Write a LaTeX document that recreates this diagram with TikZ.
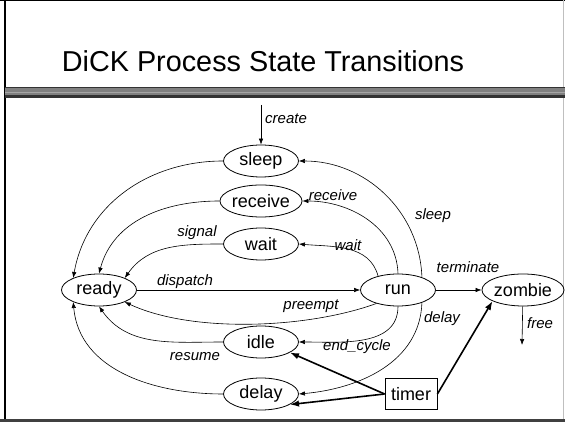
\documentclass[tikz,border=0pt]{standalone}
\usepackage{fontspec}
\setmainfont{Liberation Sans}
\usetikzlibrary{arrows.meta}
\usetikzlibrary{positioning}
\usetikzlibrary{shapes.geometric}
\tikzset{state/.style = {draw, ellipse, line width = 0.8, minimum width = 75, minimum height = 32, inner sep = 0, font = \fontsize{18}{18}\selectfont}}
\tikzset{clock/.style = {draw, line width = 0.8, minimum width = 52, minimum height = 31, inner sep = 0, font = \fontsize{18}{18}\selectfont}}
\tikzset{lbl/.style = {inner sep = 0, font = \itshape\fontsize{15}{15}\selectfont}}
\tikzset{trans/.style = {line width = 0.6, -{Latex[length = 6, width = 4.5]}}}
\tikzset{kick/.style = {line width = 1.6, -{Latex[length = 9, width = 6.5]}}}

\begin{document}
\begin{tikzpicture}[x = 1pt, y = 1pt]
    \useasboundingbox (0, 0) rectangle (565, 422);

    % frame and header rule
    \draw[line width = 1] (0, 421.5) -- (565, 421.5);
    \draw[line width = 2.5] (5, 0) -- (5, 422);
    \draw[black!25, line width = 1] (563.5, 0) -- (563.5, 422);
    \draw[black!75, line width = 2.5] (0, 1.5) -- (565, 1.5);
    \fill[black!80] (5, 324) rectangle (565, 335);
    \fill[black!50] (5, 327) rectangle (565, 333.5);
    \draw[black!35, line width = 0.8] (5, 330) -- (565, 330);

    \node[anchor = base, inner sep = 0, font = \fontsize{28.8}{30}\selectfont] (title) at (263, 350) {DiCK Process State Transitions};

    \node[state] (sleep) at (261, 261) {sleep};
    \node[state] (receive) at (261, 221) {receive};
    \node[state] (wait) at (261, 178) {wait};
    \node[state] (ready) at (99, 132) {ready};
    \node[state] (run) at (398, 132) {run};
    \node[state] (zombie) at (523, 132) {zombie};
    \node[state] (idle) at (261, 80) {idle};
    \node[state] (delay) at (261, 28) {delay};
    \node[clock] (timer) at (411, 28) {timer};

    \coordinate (create) at (261, 317);
    \coordinate (free) at (522, 77);

    \draw[trans] (create) -- (sleep);
    \draw[trans] (sleep.west) to[out = 180, in = 80] (ready.155);
    \draw[trans] (receive.west) to[out = 180, in = 75] (ready.north);
    \draw[trans] (wait.west) to[out = 180, in = 55] (ready.25);
    \draw[trans] (run.28) to[out = 92, in = 0] (sleep.east);
    \draw[trans] (run.north) to[out = 92, in = 0] (receive.east);
    \draw[trans] (run.145) to[out = 105, in = -5] (wait.east);
    \draw[trans] (ready) -- (run);
    \draw[trans] (run.212) to[out = 200, in = -25, looseness = 0.75] (ready.335);
    \draw[trans] (run.south) to[out = -90, in = 0] (idle.east);
    \draw[trans] (run.-28) to[out = -92, in = 5] (delay.east);
    \draw[trans] (idle.west) to[out = 180, in = -55] (ready.south);
    \draw[trans] (delay.west) to[out = 180, in = -85] (ready.205);
    \draw[trans] (run) -- (zombie);
    \draw[trans] (zombie) -- (free);

    \draw[kick] (timer.west) -- (idle.340);
    \draw[kick] (timer.west) -- (delay.340);
    \draw[kick] (timer.east) -- (zombie.200);

    \node[lbl, anchor = west] (lcreate) at (265, 303) {create};
    \node[lbl] (lsleep) at (433, 206) {sleep};
    \node[lbl] (lreceive) at (333, 227) {receive};
    \node[lbl] (lwait) at (348, 177) {wait};
    \node[lbl] (lsignal) at (197, 189) {signal};
    \node[lbl] (lterminate) at (468, 155) {terminate};
    \node[lbl] (ldispatch) at (185, 140) {dispatch};
    \node[lbl] (lpreempt) at (311, 116) {preempt};
    \node[lbl] (ldelay) at (442, 103) {delay};
    \node[lbl] (lendcycle) at (357, 75) {end\_cycle};
    \node[lbl] (lresume) at (195, 65) {resume};
    \node[lbl, anchor = west] (lfree) at (527, 99) {free};
  \end{tikzpicture}
\end{document}
